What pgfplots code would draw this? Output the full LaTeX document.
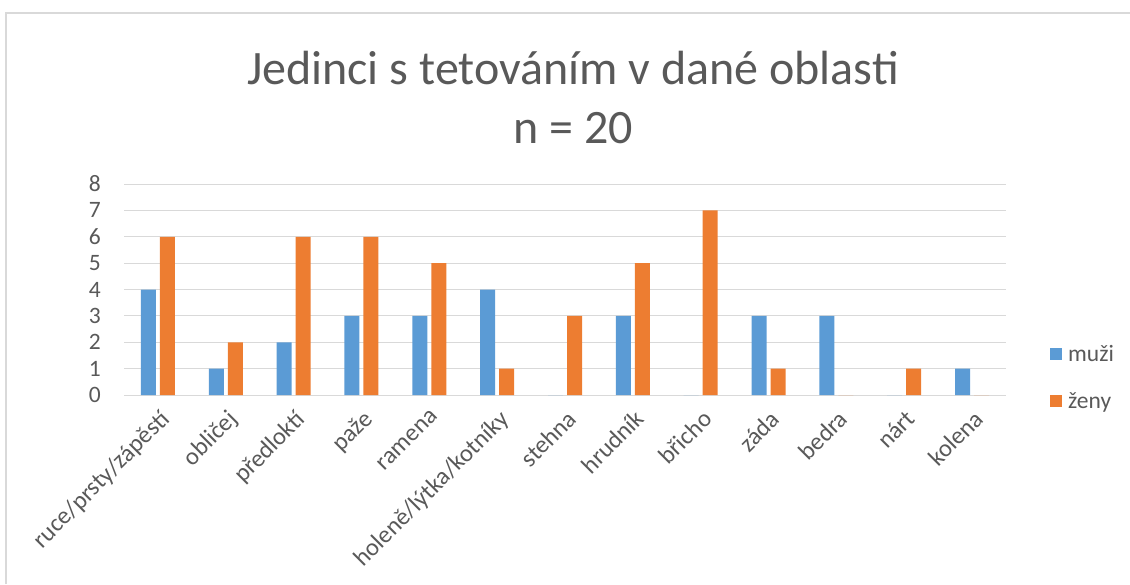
\documentclass[border=0pt]{standalone}
\usepackage{fontspec}
\setmainfont{Carlito}
\usepackage{pgfplots}
\usepackage{pgfplotstable}
\pgfplotsset{compat=1.18}
\definecolor{muzi}{HTML}{5B9BD5}
\definecolor{zeny}{HTML}{ED7D31}
\definecolor{gridc}{HTML}{D9D9D9}
\definecolor{txt}{HTML}{595959}

\pgfplotstableread{
x m z
0 4 6
1 1 2
2 2 6
3 3 6
4 3 5
5 4 1
6 0 3
7 3 5
8 0 7
9 3 1
10 3 0
11 0 1
12 1 0
}\data

\begin{document}
\begin{tikzpicture}
\path[use as bounding box] (0pt,0pt) rectangle (1130pt,584pt);
\draw[gridc, line width=1.3pt] (6pt,0pt) -- (6pt,571pt) -- (1130pt,571pt);
\node[txt, font=\fontsize{48}{56}\selectfont, inner sep=0pt] at (573pt,516pt) {Jedinci s tetováním v dané oblasti};
\node[txt, font=\fontsize{48}{56}\selectfont, inner sep=0pt] at (573pt,456pt) {n = 20};
\begin{axis}[
  at={(124pt,189pt)}, anchor=south west,
  scale only axis, width=882pt, height=211pt,
  ybar, bar width=15pt, ybar=4pt,
  xmin=-0.5, xmax=12.5, ymin=0, ymax=8,
  xtick={0,...,12},
  xticklabels={ruce/prsty/zápěstí, obličej, předloktí, paže, ramena, holeně/lýtka/kotníky, stehna, hrudník, břicho, záda, bedra, nárt, kolena},
  ytick={0,...,8},
  ymajorgrids, grid style={gridc, line width=1pt},
  axis line style={draw=none}, tick style={draw=none},
  /pgf/number format/assume math mode=true,
  tick label style={txt, font=\fontsize{23.5}{28}\selectfont},
  yticklabel style={anchor=east, inner sep=0pt, xshift=-23pt},
  xticklabel style={rotate=45, anchor=north east, inner sep=0pt, yshift=-7pt, xshift=-6pt, font=\fontsize{24.5}{29}\selectfont},
  legend image code/.code={\fill[#1] (0pt,-6pt) rectangle (12pt,6pt);},
  legend style={at={(1.0499,0.083)}, anchor=west, draw=none, fill=none,
    inner sep=0pt, row sep=30pt, column sep=6pt, font=\fontsize{23.5}{28}\selectfont, text=txt,
    nodes={inner sep=0pt}},
  legend cell align=left,
]
\addplot[fill=muzi, draw=none] table[x=x, y=m] {\data};
\addplot[fill=zeny, draw=none] table[x=x, y=z] {\data};
\legend{muži, ženy}
\end{axis}
\end{tikzpicture}
\end{document}
